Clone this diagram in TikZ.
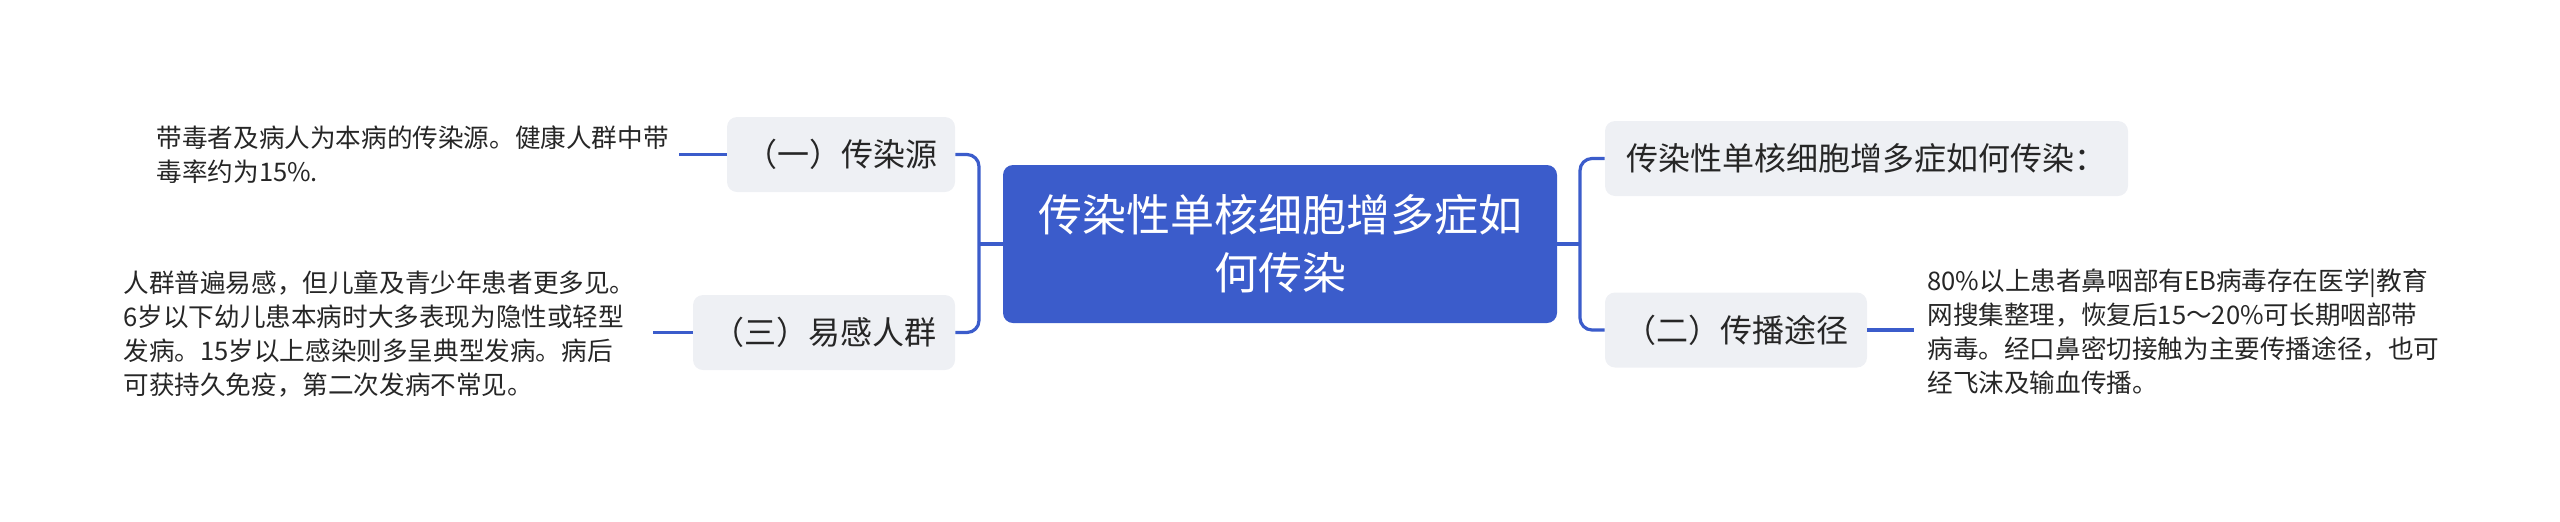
\documentclass[tikz,border=0pt]{standalone}
\usepackage{fontspec}
\setmainfont{Noto Sans CJK SC}
\definecolor{mainblue}{HTML}{3B5CCB}
\definecolor{boxgray}{HTML}{EEF0F4}
\definecolor{txt}{HTML}{262626}
\tikzset{
  rootbox/.style={draw=none, fill=mainblue, rounded corners=5pt, text=white, align=center,
    font=\fontsize{22pt}{29pt}\selectfont, minimum width=277pt, minimum height=79pt, inner sep=0pt},
  subbox/.style={draw=none, fill=boxgray, rounded corners=5pt, text=txt, align=center,
    font=\fontsize{16pt}{20pt}\selectfont, minimum height=37.5pt, inner sep=0pt},
  leaftext/.style={text=txt, align=left, text width=258pt, inner xsep=6.5pt, inner ysep=0pt,
    font=\fontsize{12.8pt}{17pt}\selectfont},
  link/.style={draw=mainblue, line width=1.6pt},
}
\begin{document}
\begin{tikzpicture}[x=0.5pt,y=-0.5pt]
\useasboundingbox (0,0) rectangle (2560,521);
\node[rootbox] (root) at (1280,244) {传染性单核细胞增多症如\\何传染};
\node[subbox, minimum width=114pt] (b1) at (841,154.5) {（一）传染源};
\node[subbox, minimum width=131pt] (b3) at (824,332.5) {（三）易感人群};
\node[subbox, minimum width=261.5pt] (r1) at (1866.5,158.5) {传染性单核细胞增多症如何传染：};
\node[subbox, minimum width=131pt] (b2) at (1736,330) {（二）传播途径};
\node[leaftext, anchor=east, text width=254.5pt] (t1) at (679,155) {带毒者及病人为本病的传染源。健康人群中带\\毒率约为15\%.};
\node[leaftext, anchor=west] (t3) at (110,334) {人群普遍易感，但儿童及青少年患者更多见。\\6岁以下幼儿患本病时大多表现为隐性或轻型\\发病。15岁以上感染则多呈典型发病。病后\\可获持久免疫，第二次发病不常见。};
\node[leaftext, anchor=west] (t2) at (1914,332) {80\%以上患者鼻咽部有EB病毒存在医学|教育\\网搜集整理，恢复后15～20\%可长期咽部带\\病毒。经口鼻密切接触为主要传播途径，也可\\经飞沫及输血传播。};
\coordinate (jl) at (979,244);
\coordinate (jr) at (1580,244);
\draw[link] (root.west) -- (jl);
\draw[link, rounded corners=6pt] (b1.east) -| (jl) |- (b3.east);
\draw[link] (root.east) -- (jr);
\draw[link, rounded corners=6pt] (r1.west) -| (jr) |- (b2.west);
\draw[link] (b1.west) -- (t1.east |- b1.west);
\draw[link] (b3.west) -- (t3.east |- b3.west);
\draw[link] (b2.east) -- (t2.west |- b2.east);
\end{tikzpicture}
\end{document}
